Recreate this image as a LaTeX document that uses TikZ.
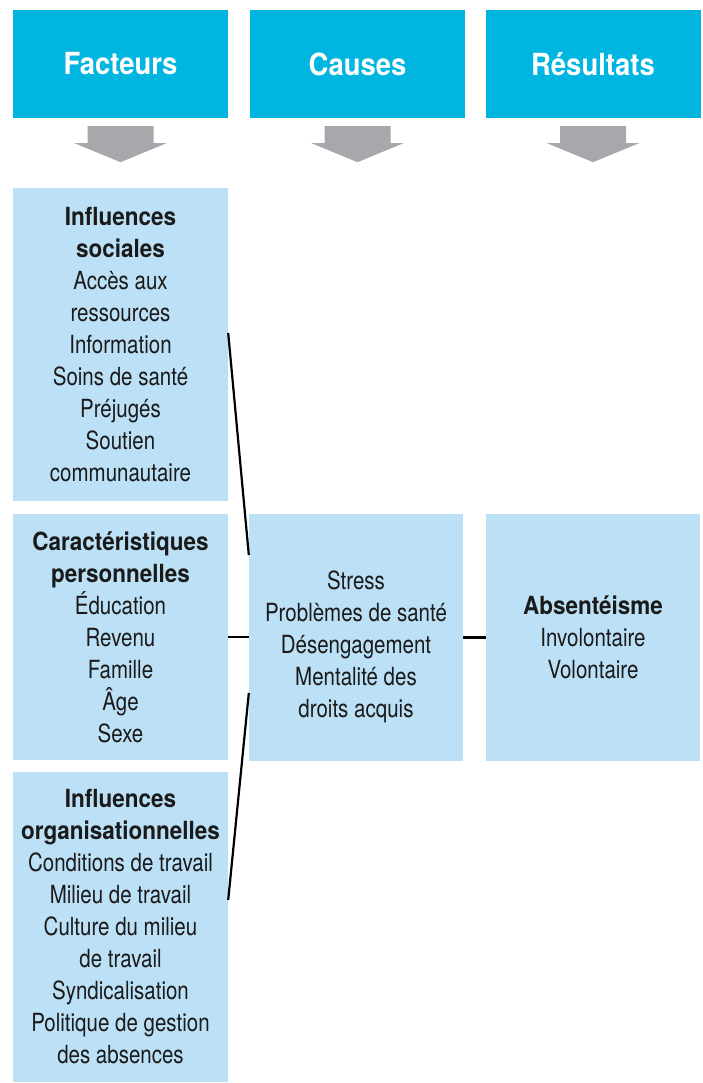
\documentclass[tikz,border=0pt]{standalone}
\usepackage{fontspec}
\setmainfont{TeX Gyre Heros}[FakeStretch=0.82, BoldFeatures={FakeStretch=0.9}]
\definecolor{hdrblue}{HTML}{00B5DF}
\definecolor{boxblue}{HTML}{BCE0F5}
\definecolor{arrgray}{HTML}{A7A8AB}
\definecolor{txtcol}{HTML}{1A1A1A}
\newcommand{\bodyfont}{\fontsize{25}{32}\selectfont}

\begin{document}
\begin{tikzpicture}[x=1pt, y=-1pt,
	hdr/.style={fill=hdrblue, text=white, minimum width=215pt, minimum height=108pt, inner sep=0pt, font=\fontsize{30.5}{36}\selectfont\bfseries},
	box/.style={fill=boxblue, text=txtcol, minimum width=215pt, inner sep=0pt, align=center, font=\bodyfont},
	link/.style={line width=2.2pt, black}]
\useasboundingbox (0,0) rectangle (703,1083);
				\node[hdr] (fac)at(120.5, 64) {Facteurs};
				\node[hdr] (cau)at(357.5, 64) {Causes};
				\node[hdr] (res)at(593, 64) {Résultats};
				\foreach \h in {fac, cau, res}
					\fill[arrgray] ([shift={(-33,8)}]\h.south) -- ([shift={(33,8)}]\h.south) -- ([shift={(33,25)}]\h.south) -- ([shift={(46,25)}]\h.south) -- ([shift={(0,44)}]\h.south) -- ([shift={(-46,25)}]\h.south) -- ([shift={(-33,25)}]\h.south) -- cycle;
				\node[box, minimum height=313pt] (soc)at(120.5, 344.5) {\textbf{Influences}\\\textbf{sociales}\\Accès aux\\ressources\\Information\\Soins de santé\\Préjugés\\Soutien\\communautaire};
				\node[box, minimum height=246pt] (pers)at(120.5, 637) {\textbf{Caractéristiques}\\\textbf{personnelles}\\Éducation\\Revenu\\Famille\\Âge\\Sexe};
				\node[box, minimum height=310pt] (org)at(120.5, 927) {\textbf{Influences}\\\textbf{organisationnelles}\\Conditions de travail\\Milieu de travail\\Culture du milieu\\de travail\\Syndicalisation\\Politique de gestion\\des absences};
				\node[box, minimum width=214pt, minimum height=247pt] (cause)at(356, 637.5) {};
				\node[box, fill=none] (causetxt)at(356, 647) {Stress\\Problèmes de santé\\Désengagement\\Mentalité des\\droits acquis};
				\node[box, minimum width=214pt, minimum height=247pt] (result)at(593, 637.5) {\textbf{Absentéisme}\\Involontaire\\Volontaire};
				\draw[link] ([yshift=11.5pt]soc.east) -- ([yshift=82.5pt]cause.west);
				\draw[link] (pers.east) -- (pers.east -| cause.west);
				\draw[link] ([yshift=-55.5pt]cause.west) -- ([yshift=27pt]org.east);
				\draw[link] (cause.east) -- (result.west);
			\end{tikzpicture}
\end{document}
